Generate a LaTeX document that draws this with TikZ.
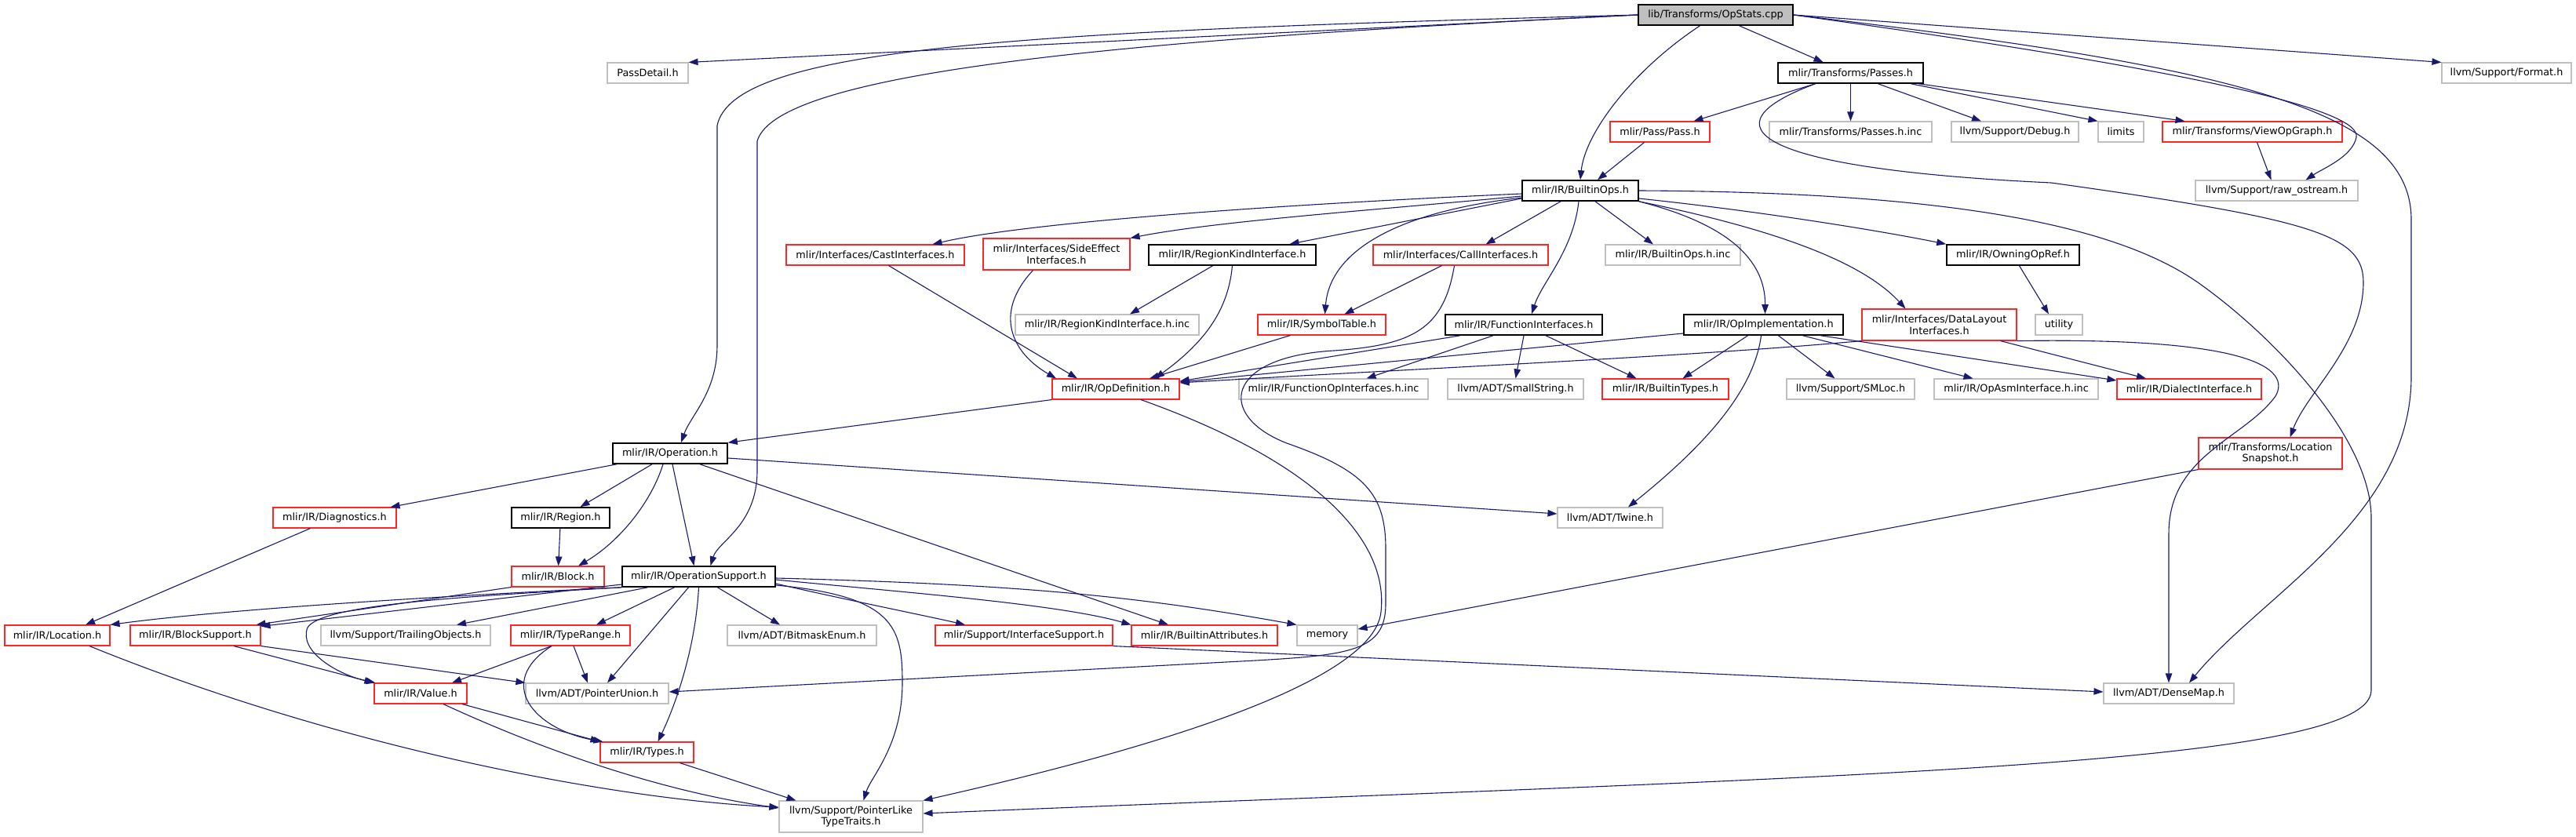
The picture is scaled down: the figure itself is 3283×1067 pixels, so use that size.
\documentclass[tikz,border=0pt]{standalone}
\usepackage{fontspec}
\setmainfont{DejaVu Sans}
\usepackage{tikz}
\usetikzlibrary{arrows.meta}
\definecolor{edgeblue}{HTML}{191970}
\definecolor{boxgray}{HTML}{BFBFBF}

\begin{document}
\begin{tikzpicture}[x=1pt,y=-1pt, >={Triangle[length=12pt,width=8.5pt]},
  nd/.style={draw,rectangle,inner sep=0pt,minimum width=#1,minimum height=26pt,
    align=center,line width=1.1pt,font=\fontsize{12.8pt}{14.7pt}\selectfont},
  root/.style={nd=#1,draw=black,fill=boxgray,line width=1.6pt},
  blk/.style={nd=#1,draw=black,line width=1.6pt},
  cut/.style={nd=#1,draw=red!85!white},
  sys/.style={nd=#1,draw=boxgray},
  dep/.style={->,draw=edgeblue,line width=1.1pt}]
  \useasboundingbox (0,0) rectangle (3283,1067);
  % Top rows
  \node[root=197pt] (opstats) at (2186.5,19) {lib/Transforms/OpStats.cpp};
  \node[sys=103pt] (passdetail) at (825.5,93) {PassDetail.h};
  \node[blk=185pt] (passes) at (2358.5,93) {mlir/Transforms/Passes.h};
  \node[sys=165pt] (format) at (3194.5,93) {llvm/Support/Format.h};
  \node[cut=127pt] (pass) at (2115.5,168) {mlir/Pass/Pass.h};
  \node[sys=207pt] (passesinc) at (2358.5,168) {mlir/Transforms/Passes.h.inc};
  \node[sys=162pt] (debug) at (2568,168) {llvm/Support/Debug.h};
  \node[sys=58pt] (limits) at (2703,168) {limits};
  \node[cut=229pt] (viewopgraph) at (2870.5,168) {mlir/Transforms/ViewOpGraph.h};
  \node[blk=148pt] (builtinops) at (2014,243) {mlir/IR/BuiltinOps.h};
  \node[sys=207pt] (rawostream) at (2901.5,243) {llvm/Support/raw\_ostream.h};
  % Interfaces
  \node[cut=227pt] (castif) at (1115.5,325) {mlir/Interfaces/CastInterfaces.h};
  \node[cut=187pt,minimum height=40pt] (sideeffect) at (1346.5,324) {mlir/Interfaces/SideEffect\\Interfaces.h};
  \node[blk=213pt] (regionkind) at (1570.5,325) {mlir/IR/RegionKindInterface.h};
  \node[cut=223pt] (callif) at (1861.5,325) {mlir/Interfaces/CallInterfaces.h};
  \node[sys=172pt] (builtinopsinc) at (2132,325) {mlir/IR/BuiltinOps.h.inc};
  \node[blk=169pt] (owningopref) at (2565.5,325) {mlir/IR/OwningOpRef.h};
  \node[sys=234pt] (regionkindinc) at (1411,414) {mlir/IR/RegionKindInterface.h.inc};
  \node[cut=163pt] (symboltable) at (1684.5,414) {mlir/IR/SymbolTable.h};
  \node[blk=200pt] (funcif) at (1942,414) {mlir/IR/FunctionInterfaces.h};
  \node[blk=203pt] (opimpl) at (2247.5,414) {mlir/IR/OpImplementation.h};
  \node[cut=197pt,minimum height=40pt] (datalayout) at (2471.5,414) {mlir/Interfaces/DataLayout\\Interfaces.h};
  \node[sys=60pt] (utility) at (2624,414) {utility};
  \node[cut=162pt] (opdef) at (1422,496) {mlir/IR/OpDefinition.h};
  \node[sys=241pt] (funcopinc) at (1699.5,496) {mlir/IR/FunctionOpInterfaces.h.inc};
  \node[sys=173pt] (smallstring) at (1931.5,496) {llvm/ADT/SmallString.h};
  \node[cut=161pt] (builtintypes) at (2122.5,496) {mlir/IR/BuiltinTypes.h};
  \node[sys=163pt] (smloc) at (2358.5,496) {llvm/Support/SMLoc.h};
  \node[sys=209pt] (opasminc) at (2569.5,496) {mlir/IR/OpAsmInterface.h.inc};
  \node[cut=184pt] (dialectif) at (2790,496) {mlir/IR/DialectInterface.h};
  \node[cut=183pt,minimum height=40pt] (locsnapshot) at (2893.5,578) {mlir/Transforms/Location\\Snapshot.h};
  % Operation and below
  \node[blk=146pt] (operation) at (854,578) {mlir/IR/Operation.h};
  \node[cut=157pt] (diagnostics) at (426.5,660) {mlir/IR/Diagnostics.h};
  \node[blk=125pt] (region) at (714.5,660) {mlir/IR/Region.h};
  \node[sys=134pt] (twine) at (2052,660) {llvm/ADT/Twine.h};
  \node[cut=118pt] (block) at (711,735) {mlir/IR/Block.h};
  \node[blk=195pt] (opsupport) at (890.5,735) {mlir/IR/OperationSupport.h};
  \node[cut=134pt] (location) at (73,810) {mlir/IR/Location.h};
  \node[cut=166pt] (blocksupport) at (249,810) {mlir/IR/BlockSupport.h};
  \node[sys=216pt] (trailing) at (517,810) {llvm/Support/TrailingObjects.h};
  \node[cut=152pt] (typerange) at (727,810) {mlir/IR/TypeRange.h};
  \node[sys=190pt] (bitmask) at (1022,810) {llvm/ADT/BitmaskEnum.h};
  \node[cut=226pt] (interfacesupport) at (1305,810) {mlir/Support/InterfaceSupport.h};
  \node[cut=186pt] (builtinattrs) at (1535,810) {mlir/IR/BuiltinAttributes.h};
  \node[sys=77pt] (memory) at (1691.5,810) {memory};
  \node[cut=118pt] (value) at (536,884) {mlir/IR/Value.h};
  \node[sys=182pt] (pointerunion) at (761,884) {llvm/ADT/PointerUnion.h};
  \node[sys=166pt] (densemap) at (2764,884) {llvm/ADT/DenseMap.h};
  \node[cut=119pt] (types) at (824.5,959) {mlir/IR/Types.h};
  \node[sys=183pt,minimum height=40pt] (pointerlike) at (1084.5,1041) {llvm/Support/PointerLike\\TypeTraits.h};
  % Edges from OpStats.cpp
  \draw[dep] (opstats.west) -- (passdetail.north east);
  \draw[dep] (opstats.west) .. controls (1300,40) and (935,60) .. (914,160) -- (914,440) .. controls (914,500) and (880,530) .. ([xshift=14pt]operation.north);
  \draw[dep] (opstats.west) .. controls (1450,50) and (990,90) .. (965,180) -- (965,600) .. controls (965,670) and (915,690) .. ([xshift=15pt]opsupport.north);
  \draw[dep] ([xshift=-20pt]opstats.south) .. controls (2080,90) and (2020,170) .. (builtinops.north);
  \draw[dep] ([xshift=30pt]opstats.south) -- ([xshift=-35pt]passes.north);
  \draw[dep] (opstats.east) -- (format.north west);
  \draw[dep] (opstats.east) .. controls (2800,90) and (3010,140) .. (3003,175) .. controls (2998,200) and (2960,215) .. ([xshift=37pt]rawostream.north);
  \draw[dep] (opstats.east) .. controls (2850,85) and (3073,140) .. (3073,280) -- (3073,480) .. controls (3073,660) and (2880,760) .. ([xshift=26pt]densemap.north);
  % Passes.h
  \draw[dep] ([xshift=-45pt]passes.south) -- ([xshift=43pt]pass.north);
  \draw[dep] (passes) -- (passesinc);
  \draw[dep] ([xshift=35pt]passes.south) -- ([xshift=-43pt]debug.north);
  \draw[dep] ([xshift=77pt]passes.south) -- (limits.north west);
  \draw[dep] ([xshift=87pt]passes.south) -- ([xshift=-86pt]viewopgraph.north);
  \draw[dep] ([xshift=-45pt]passes.south) .. controls (2170,160) and (2230,215) .. (2614,233) .. controls (2950,280) and (3012,300) .. (3012,360) .. controls (3012,440) and (2940,500) .. ([xshift=25pt]locsnapshot.north);
  \draw[dep] ([xshift=-20pt]pass.south) -- ([xshift=22pt]builtinops.north);
  \draw[dep] ([xshift=6pt]viewopgraph.south) -- ([xshift=-7pt]rawostream.north);
  % BuiltinOps.h
  \draw[dep] ([yshift=-4pt]builtinops.west) .. controls (1600,262) and (1300,285) .. ([xshift=73pt]castif.north);
  \draw[dep] ([yshift=-7pt]builtinops.west) .. controls (1750,268) and (1550,282) .. (sideeffect.north east);
  \draw[dep] ([yshift=-10pt]builtinops.west) -- ([xshift=73pt]regionkind.north);
  \draw[dep] ([yshift=-9pt]builtinops.west) .. controls (1780,270) and (1695,320) .. ([xshift=4pt]symboltable.north);
  \draw[dep] ([xshift=-25pt]builtinops.south) -- ([xshift=32pt]callif.north);
  \draw[dep] ([xshift=-2pt]builtinops.south) .. controls (2005,320) and (1965,360) .. ([xshift=10pt]funcif.north);
  \draw[dep] ([xshift=19pt]builtinops.south) -- ([xshift=-25pt]builtinopsinc.north);
  \draw[dep] (builtinops.south east) .. controls (2200,285) and (2250,330) .. ([xshift=2pt]opimpl.north);
  \draw[dep] (builtinops.south east) .. controls (2250,290) and (2370,330) .. ([xshift=-43pt]datalayout.north);
  \draw[dep] ([yshift=-10pt]builtinops.east) .. controls (2250,270) and (2400,295) .. (owningopref.north west);
  \draw[dep] (builtinops.east) .. controls (2500,245) and (2700,290) .. (2801,360) .. controls (2900,430) and (3022,560) .. (3022,660) -- (3022,880) .. controls (3022,980) and (2300,990) .. ([yshift=4pt]pointerlike.east);
  % Interfaces to OpDefinition.h
  \draw[dep] ([xshift=17pt]castif.south) -- ([xshift=-49pt]opdef.north);
  \draw[dep] ([xshift=-30pt]sideeffect.south) .. controls (1265,400) and (1290,450) .. ([xshift=-76pt]opdef.north);
  \draw[dep] ([xshift=-25pt]regionkind.south) -- ([xshift=29pt]regionkindinc.north);
  \draw[dep] (regionkind.south) .. controls (1565,400) and (1530,440) .. ([xshift=50pt]opdef.north);
  \draw[dep] ([xshift=-24pt]callif.south) -- ([xshift=29pt]symboltable.north);
  \draw[dep] ([xshift=-8pt]callif.south) .. controls (1840,420) and (1800,440) .. (1700,447) .. controls (1560,455) and (1550,530) .. (1640,565) .. controls (1740,600) and (1766,630) .. (1766,700) -- (1766,770) .. controls (1766,830) and (1720,835) .. (1600,842) -- ([yshift=2pt]pointerunion.east);
  \draw[dep] ([xshift=-40pt]symboltable.south) -- ([xshift=43pt]opdef.north);
  \draw[dep] ([xshift=-81pt]funcif.south) -- ([yshift=10pt]opdef.east);
  \draw[dep] ([xshift=-39pt]funcif.south) -- ([xshift=42pt]funcopinc.north);
  \draw[dep] (funcif.south) -- (smallstring.north);
  \draw[dep] ([xshift=28pt]funcif.south) -- ([xshift=-37pt]builtintypes.north);
  \draw[dep] ([yshift=-11pt]opimpl.west) -- ([yshift=9pt]opdef.east);
  \draw[dep] ([xshift=-20pt]opimpl.south) -- ([xshift=22pt]builtintypes.north);
  \draw[dep] ([xshift=-3pt]opimpl.south) .. controls (2235,500) and (2170,570) .. ([xshift=23pt]twine.north);
  \draw[dep] ([xshift=19pt]opimpl.south) -- ([xshift=-20pt]smloc.north);
  \draw[dep] ([xshift=50pt]opimpl.south) -- ([xshift=-55pt]opasminc.north);
  \draw[dep] ([xshift=73pt]opimpl.south) -- ([yshift=11pt]dialectif.west);
  \draw[dep] (datalayout.south west) .. controls (2150,455) and (1800,470) .. ([yshift=8pt]opdef.east);
  \draw[dep] ([xshift=78pt]datalayout.south) -- ([xshift=-55pt]dialectif.north);
  \draw[dep] (datalayout.south east) .. controls (2870,430) and (2920,470) .. (2900,505) .. controls (2860,560) and (2764,580) .. (2764,680) -- (densemap.north);
  \draw[dep] ([xshift=8pt]owningopref.south) -- ([xshift=-13pt]utility.north);
  % OpDefinition.h and Operation.h
  \draw[dep] (opdef.south west) -- (operation.north east);
  \draw[dep] ([xshift=32pt]opdef.south) .. controls (1680,590) and (1770,690) .. (1760,780) .. controls (1750,880) and (1400,970) .. (pointerlike.north east);
  \draw[dep] ([xshift=-68pt]operation.south) -- ([xshift=71pt]diagnostics.north);
  \draw[dep] ([xshift=-23pt]operation.south) -- ([xshift=25pt]region.north);
  \draw[dep] ([xshift=-9pt]operation.south) .. controls (830,640) and (790,690) .. ([xshift=26pt]block.north);
  \draw[dep] ([xshift=3pt]operation.south) -- ([xshift=-6pt]opsupport.north);
  \draw[dep] ([yshift=-6pt]operation.east) -- ([yshift=5pt]twine.west);
  \draw[dep] ([xshift=38pt]operation.south) -- ([xshift=-46pt]builtinattrs.north);
  \draw[dep] ([xshift=-31pt]diagnostics.south) -- ([xshift=36pt]location.north);
  \draw[dep] (region) -- (block);
  \draw[dep] (block.south west) -- ([xshift=-6pt]blocksupport.north east);
  % OperationSupport.h
  \draw[dep] (opsupport.south west) .. controls (600,758) and (300,775) .. (location.north east);
  \draw[dep] ([yshift=-10pt]opsupport.west) -- ([yshift=-2pt]blocksupport.north east);
  \draw[dep] (opsupport.south west) .. controls (600,760) and (410,770) .. (392,800) .. controls (380,830) and (430,860) .. ([xshift=2pt]value.north west);
  \draw[dep] ([xshift=-65pt]opsupport.south) -- ([xshift=65pt]trailing.north);
  \draw[dep] ([xshift=-31pt]opsupport.south) -- ([xshift=33pt]typerange.north);
  \draw[dep] ([xshift=-13pt]opsupport.south) -- ([xshift=13pt]pointerunion.north);
  \draw[dep] (opsupport.south) .. controls (886,830) and (860,900) .. ([xshift=14pt]types.north);
  \draw[dep] ([xshift=24pt]opsupport.south) -- ([xshift=-28pt]bitmask.north);
  \draw[dep] ([yshift=-9pt]opsupport.east) .. controls (1080,765) and (1180,785) .. ([xshift=-75pt]interfacesupport.north);
  \draw[dep] ([yshift=-4pt]opsupport.east) .. controls (1150,755) and (1350,770) .. (builtinattrs.north west);
  \draw[dep] ([yshift=-2pt]opsupport.east) .. controls (1300,745) and (1450,760) .. (memory.north west);
  \draw[dep] ([yshift=-11pt]opsupport.east) .. controls (1140,760) and (1150,800) .. (1150,870) .. controls (1150,950) and (1110,990) .. ([xshift=16pt]pointerlike.north);
  % Lower rows
  \draw[dep] ([xshift=49pt]blocksupport.south) -- (value.north west);
  \draw[dep] (blocksupport.south east) -- (pointerunion.north west);
  \draw[dep] ([xshift=41pt]location.south) .. controls (450,960) and (800,1020) .. ([yshift=12pt]pointerlike.west);
  \draw[dep] ([xshift=-24pt]typerange.south) -- ([xshift=40pt]value.north);
  \draw[dep] ([xshift=-24pt]typerange.south) .. controls (630,870) and (680,930) .. ([xshift=4pt]types.north west);
  \draw[dep] ([xshift=4pt]typerange.south) -- ([xshift=-12pt]pointerunion.north);
  \draw[dep] ([xshift=53pt]value.south) -- ([xshift=-60pt]types.north);
  \draw[dep] ([xshift=29pt]value.south) .. controls (700,960) and (850,1010) .. ([yshift=11pt]pointerlike.west);
  \draw[dep] ([xshift=42pt]types.south) -- ([xshift=-70pt]pointerlike.north);
  \draw[dep] (interfacesupport.south east) -- ([yshift=2pt]densemap.west);
  \draw[dep] (locsnapshot.south west) -- ([yshift=8pt]memory.east);
\end{tikzpicture}
\end{document}
